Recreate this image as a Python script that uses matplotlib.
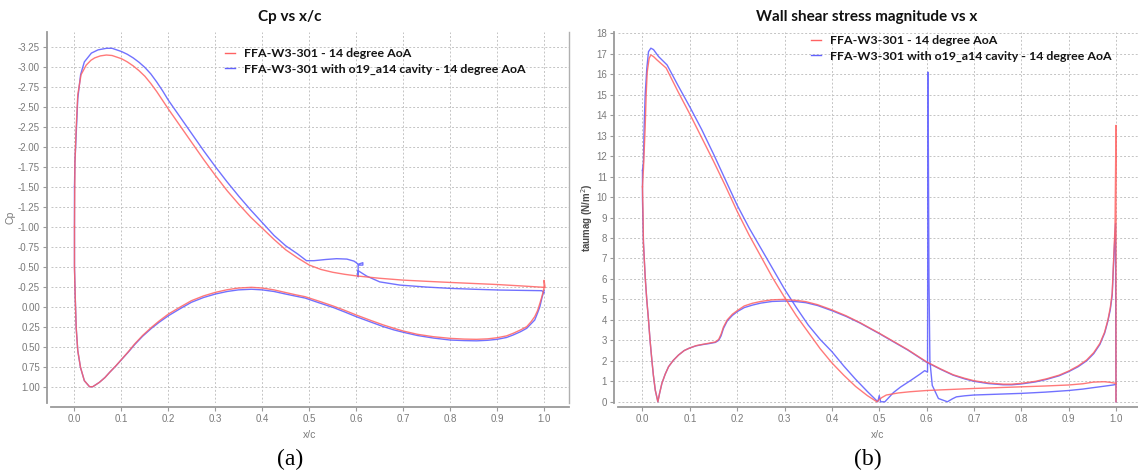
import matplotlib
matplotlib.use("Agg")
import matplotlib.pyplot as plt

W, H = 1138, 476

# ---- Cp vs x/c (suction side, pressure side) ----
cp_red_upper_x = [0.0, 0.001, 0.0036, 0.007, 0.014, 0.025, 0.035, 0.043, 0.055, 0.068, 0.08,
                  0.1, 0.1125, 0.125, 0.1375, 0.15, 0.1625, 0.175, 0.1875, 0.2, 0.225, 0.25,
                  0.275, 0.3, 0.325, 0.35, 0.375, 0.4, 0.425, 0.45, 0.475, 0.5, 0.525, 0.55,
                  0.575, 0.6, 0.65, 0.7, 0.75, 0.8, 0.85, 0.9, 0.95, 1.0, 1.0, 1.002]
cp_red_upper = [-1.0, -1.8, -2.23, -2.65, -2.90, -3.02, -3.08, -3.11, -3.135, -3.146, -3.14,
                -3.10, -3.06, -3.01, -2.95, -2.88, -2.79, -2.69, -2.58, -2.47, -2.26, -2.05,
                -1.84, -1.64, -1.45, -1.28, -1.12, -0.98, -0.84, -0.71, -0.61, -0.52, -0.465, -0.43,
                -0.405, -0.385, -0.355, -0.332, -0.317, -0.303, -0.29, -0.277, -0.26, -0.242, -0.33, -0.24]
cp_red_lower_x = [0.0, 0.0, 0.0014, 0.0036, 0.007, 0.0128, 0.021, 0.032, 0.039, 0.053, 0.065,
                  0.075, 0.088, 0.101, 0.115, 0.128, 0.145, 0.164, 0.18, 0.2, 0.225, 0.249, 0.275,
                  0.3, 0.325, 0.349, 0.377, 0.4, 0.425, 0.448, 0.47, 0.491, 0.52, 0.551, 0.575,
                  0.6, 0.63, 0.658, 0.68, 0.7, 0.73, 0.764, 0.8, 0.83, 0.856, 0.88, 0.9, 0.92,
                  0.934, 0.95, 0.963, 0.972, 0.98, 0.986, 0.991, 0.995, 0.998, 1.0]
cp_red_lower = [-1.0, -0.49, -0.158, 0.258, 0.55, 0.758, 0.925, 1.0, 1.0, 0.946, 0.885,
                0.82, 0.74, 0.654, 0.56, 0.467, 0.36, 0.258, 0.18, 0.092, 0.005, -0.075, -0.135,
                -0.179, -0.212, -0.233, -0.242, -0.233, -0.21, -0.179, -0.15, -0.125, -0.07, -0.008, 0.045,
                0.104, 0.17, 0.229, 0.27, 0.304, 0.345, 0.375, 0.396, 0.405, 0.408, 0.402, 0.388, 0.365,
                0.333, 0.29, 0.25, 0.19, 0.125, 0.05, -0.042, -0.12, -0.19, -0.24]

cp_blue_upper_x = [0.0, 0.001, 0.0036, 0.007, 0.013, 0.021, 0.036, 0.05, 0.068, 0.08, 0.1,
                   0.1125, 0.125, 0.1375, 0.15, 0.1625, 0.175, 0.1875, 0.2, 0.225, 0.25, 0.275,
                   0.3, 0.325, 0.35, 0.375, 0.4, 0.425, 0.45, 0.475, 0.494, 0.51, 0.535, 0.558,
                   0.58, 0.595, 0.60, 0.604, 0.614, 0.614, 0.604, 0.604, 0.604, 0.622, 0.65,
                   0.693, 0.75, 0.80, 0.85, 0.906, 0.95, 0.995, 1.0]
cp_blue_upper = [-1.5, -1.81, -2.15, -2.6, -2.90, -3.06, -3.17, -3.21, -3.23, -3.23, -3.19,
                 -3.155, -3.11, -3.055, -2.99, -2.91, -2.81, -2.70, -2.58, -2.37, -2.16, -1.95,
                 -1.75, -1.56, -1.38, -1.21, -1.05, -0.89, -0.76, -0.66, -0.575, -0.575, -0.59, -0.60,
                 -0.595, -0.57, -0.55, -0.53, -0.55, -0.52, -0.52, -0.375, -0.45, -0.383, -0.31,
                 -0.27, -0.245, -0.229, -0.218, -0.208, -0.204, -0.2, -0.175]
cp_blue_lower_x = [0.0, 0.0, 0.0014, 0.0036, 0.007, 0.0128, 0.021, 0.032, 0.039, 0.053, 0.065,
                   0.075, 0.088, 0.101, 0.115, 0.128, 0.145, 0.164, 0.18, 0.2, 0.225, 0.249, 0.275,
                   0.3, 0.325, 0.349, 0.377, 0.4, 0.425, 0.448, 0.47, 0.491, 0.52, 0.551, 0.575,
                   0.6, 0.63, 0.658, 0.68, 0.7, 0.73, 0.764, 0.8, 0.83, 0.856, 0.88, 0.9, 0.92,
                   0.934, 0.95, 0.963, 0.972, 0.98, 0.986, 0.991, 0.996, 1.0]
cp_blue_lower = [-1.5, -0.5, -0.16, 0.26, 0.55, 0.76, 0.925, 1.0, 1.0, 0.946, 0.885,
                 0.82, 0.742, 0.656, 0.565, 0.475, 0.37, 0.27, 0.196, 0.113, 0.025, -0.055, -0.115,
                 -0.158, -0.19, -0.21, -0.218, -0.21, -0.19, -0.16, -0.133, -0.108, -0.05, 0.01, 0.065,
                 0.125, 0.19, 0.25, 0.29, 0.32, 0.36, 0.392, 0.417, 0.424, 0.427, 0.42, 0.408, 0.385,
                 0.354, 0.312, 0.27, 0.215, 0.167, 0.08, 0.0, -0.125, -0.2]

# ---- wall shear stress magnitude vs x/c ----
tau_red_upper_x = [0.0, 0.0021, 0.0057, 0.0078, 0.01, 0.0141, 0.0177, 0.0233, 0.0304, 0.05,
                   0.075, 0.1, 0.125, 0.15, 0.175, 0.2, 0.225, 0.25, 0.275, 0.3, 0.325, 0.35,
                   0.375, 0.4, 0.425, 0.45, 0.475, 0.495, 0.505, 0.515, 0.54, 0.565, 0.6,
                   0.65, 0.7, 0.75, 0.8, 0.85, 0.9, 0.93, 0.952, 0.975, 0.987, 1.0]
tau_red_upper = [10.5, 11.4, 13.4, 15.0, 16.1, 16.78, 16.94, 16.86, 16.7, 16.3,
                 15.15, 14.05, 12.9, 11.75, 10.55, 9.3, 8.15, 7.1, 6.05, 5.1, 4.2, 3.4,
                 2.6, 1.9, 1.3, 0.75, 0.3, 0.0, 0.2, 0.33, 0.43, 0.49, 0.55,
                 0.6, 0.65, 0.69, 0.73, 0.77, 0.82, 0.88, 0.96, 0.98, 0.95, 0.9]
tau_red_lower_x = [0.0, 0.001, 0.002, 0.0057, 0.009, 0.0127, 0.016, 0.0198, 0.023, 0.027, 0.0325,
                   0.036, 0.041, 0.048, 0.055, 0.065, 0.076, 0.088, 0.099, 0.113, 0.126, 0.14,
                   0.154, 0.161, 0.166, 0.171, 0.179, 0.19, 0.2, 0.215, 0.232, 0.25, 0.274, 0.3,
                   0.325, 0.345, 0.37, 0.4, 0.43, 0.459, 0.5, 0.53, 0.56, 0.6, 0.63, 0.656, 0.68,
                   0.7, 0.73, 0.762, 0.78, 0.8, 0.83, 0.853, 0.88, 0.9, 0.92, 0.938, 0.953, 0.966,
                   0.976, 0.983, 0.988, 0.992, 0.995, 0.998, 1.0, 1.0]
tau_red_lower = [10.5, 9.4, 7.75, 6.1, 5.0, 4.0, 3.0, 2.04, 1.3, 0.57, 0.0,
                 0.4, 0.9, 1.35, 1.71, 2.02, 2.28, 2.5, 2.62, 2.74, 2.8, 2.86,
                 2.92, 3.05, 3.3, 3.65, 4.0, 4.28, 4.45, 4.68, 4.81, 4.9, 4.98, 5.0,
                 4.95, 4.89, 4.74, 4.49, 4.2, 3.87, 3.35, 2.95, 2.55, 1.95, 1.6, 1.32, 1.15,
                 1.03, 0.92, 0.86, 0.86, 0.9, 1.0, 1.12, 1.3, 1.5, 1.75, 2.04, 2.4, 2.85,
                 3.4, 4.0, 4.6, 5.3, 6.93, 8.56, 13.5, 0.0]

tau_blue_upper_x = [0.0, 0.002, 0.0035, 0.0057, 0.0092, 0.0127, 0.0177, 0.0233, 0.034, 0.052,
                    0.075, 0.1, 0.125, 0.15, 0.175, 0.2, 0.225, 0.25, 0.275, 0.3, 0.325, 0.35,
                    0.375, 0.4, 0.425, 0.45, 0.475, 0.497, 0.5, 0.503, 0.512, 0.52, 0.53, 0.545,
                    0.565, 0.586, 0.596, 0.602, 0.603, 0.605, 0.607, 0.612, 0.625, 0.644,
                    0.655, 0.663, 0.68, 0.7, 0.75, 0.8, 0.85, 0.9, 0.93, 0.952, 0.975, 0.994, 1.0]
tau_blue_upper = [11.3, 11.7, 13.4, 15.0, 16.3, 17.1, 17.27, 17.2, 16.86, 16.45,
                  15.45, 14.4, 13.3, 12.1, 10.85, 9.6, 8.5, 7.5, 6.5, 5.5, 4.6, 3.75,
                  3.05, 2.45, 1.75, 1.1, 0.5, 0.0, 0.3, 0.0, 0.0, 0.2, 0.45, 0.72,
                  1.02, 1.35, 1.52, 1.45, 16.1, 6.0, 2.0, 0.8, 0.16, 0.0,
                  0.15, 0.24, 0.29, 0.33, 0.37, 0.41, 0.47, 0.55, 0.62, 0.69, 0.76, 0.82, 0.85]
tau_blue_lower_x = [0.0, 0.0, 0.002, 0.0057, 0.009, 0.0127, 0.016, 0.0198, 0.023, 0.027, 0.0325,
                    0.036, 0.041, 0.048, 0.055, 0.065, 0.076, 0.088, 0.099, 0.113, 0.126, 0.14,
                    0.154, 0.161, 0.166, 0.171, 0.179, 0.19, 0.2, 0.215, 0.232, 0.25, 0.274, 0.3,
                    0.325, 0.345, 0.37, 0.4, 0.43, 0.459, 0.5, 0.53, 0.56, 0.6, 0.63, 0.656, 0.68,
                    0.7, 0.73, 0.762, 0.78, 0.8, 0.83, 0.853, 0.88, 0.9, 0.92, 0.938, 0.953, 0.966,
                    0.976, 0.983, 0.988, 0.992, 0.995, 0.999, 1.0]
tau_blue_lower = [11.3, 9.9, 7.8, 6.1, 5.0, 4.0, 3.0, 2.04, 1.3, 0.57, 0.0,
                  0.4, 0.9, 1.35, 1.71, 2.02, 2.28, 2.5, 2.62, 2.73, 2.79, 2.84,
                  2.9, 3.0, 3.22, 3.58, 3.95, 4.22, 4.4, 4.6, 4.72, 4.82, 4.9, 4.92,
                  4.89, 4.84, 4.7, 4.45, 4.17, 3.85, 3.33, 2.93, 2.53, 1.93, 1.58, 1.3, 1.12,
                  1.0, 0.89, 0.83, 0.83, 0.87, 0.97, 1.09, 1.27, 1.47, 1.71, 2.0, 2.35, 2.8,
                  3.35, 3.95, 4.5, 5.2, 6.8, 8.7, 0.0]

label_base = "FFA-W3-301 - 14 degree AoA"
label_cavity = "FFA-W3-301 with o19_a14 cavity - 14 degree AoA"

cp_ticks = [-3.25, -3.0, -2.75, -2.5, -2.25, -2.0, -1.75, -1.5, -1.25, -1.0, -0.75, -0.5,
            -0.25, 0.0, 0.25, 0.5, 0.75, 1.0]
x_ticks = [0.0, 0.1, 0.2, 0.3, 0.4, 0.5, 0.6, 0.7, 0.8, 0.9, 1.0]
tau_ticks = list(range(0, 19))

RED = "#ff6262"
BLUE = "#6262ff"
GRID = "#c4c4c4"
AXIS = "#9a9a9a"
TICKTXT = "#7a7a7a"


def px_axes(fig, x0, x1, y0, y1):
    """Add axes from pixel box (x0..x1 left-right, y0..y1 top-bottom)."""
    return fig.add_axes([x0 / W, 1 - y1 / H, (x1 - x0) / W, (y1 - y0) / H])


def style_axes(ax, right_spine=True):
    ax.grid(True, color=GRID, linestyle=(0, (2, 2)), linewidth=0.7)
    ax.set_axisbelow(True)
    ax.spines["top"].set_visible(False)
    ax.spines["right"].set_visible(right_spine)
    ax.spines["right"].set_color("#b0b0b0")
    ax.spines["right"].set_linewidth(1.0)
    for side in ("left", "bottom"):
        ax.spines[side].set_color(AXIS)
        ax.spines[side].set_linewidth(1.3)
        ax.spines[side].set_position(("outward", 3))
    ax.tick_params(colors=AXIS, labelcolor=TICKTXT, labelsize=7, length=3, width=0.8,
                   direction="out", pad=2)
    for lab in ax.get_xticklabels() + ax.get_yticklabels():
        lab.set_fontfamily("Liberation Sans")


def draw_pair(ax, red_branches, blue_branches):
    for xs, ys in blue_branches:
        ax.plot(xs, ys, color=BLUE, lw=1.0, alpha=0.9)
    for xs, ys in red_branches:
        ax.plot(xs, ys, color=RED, lw=1.0, alpha=0.85)


fig = plt.figure(figsize=(W / 100, H / 100), dpi=100)
fig.patch.set_facecolor("white")

# ---- (a) pressure coefficient ----
ax1 = px_axes(fig, 51, 569, 31.7, 403)
draw_pair(ax1,
          [(cp_red_upper_x, cp_red_upper), (cp_red_lower_x, cp_red_lower)],
          [(cp_blue_upper_x, cp_blue_upper), (cp_blue_lower_x, cp_blue_lower)])
ax1.set_xlim(-0.050, 1.053)
ax1.set_ylim(1.204, -3.4375)
ax1.set_xticks(x_ticks)
ax1.set_xticklabels([f"{v:.1f}" for v in x_ticks])
ax1.set_yticks(cp_ticks)
ax1.set_yticklabels([f"{v:.2f}" for v in cp_ticks])
style_axes(ax1, right_spine=True)
ax1.set_xlabel("x/c", color=TICKTXT, fontsize=7.5, labelpad=4, family="Liberation Sans")
ax1.set_ylabel("Cp", color=TICKTXT, fontsize=7.5, labelpad=2, family="Liberation Sans")

h_red = plt.Line2D([], [], color=RED, lw=1.0)
h_blue = plt.Line2D([], [], color=BLUE, lw=1.0)
leg_kw = dict(frameon=False, loc="upper left", borderpad=0, borderaxespad=0,
              handlelength=0.8, handletextpad=0.7, labelspacing=0.38,
              prop={"family": "Lato", "weight": "bold", "size": 8.9}, labelcolor="#141414")
ax1.legend([h_red, h_blue], [label_base, label_cavity],
           bbox_to_anchor=((225 - 51) / 518, (403 - 48) / 371.3), **leg_kw)

# ---- (b) wall shear stress ----
ax2 = px_axes(fig, 618, 1138, 32, 403)
draw_pair(ax2,
          [(tau_red_upper_x, tau_red_upper), (tau_red_lower_x, tau_red_lower)],
          [(tau_blue_upper_x, tau_blue_upper), (tau_blue_lower_x, tau_blue_lower)])
ax2.set_xlim(-0.0517, 1.0465)
ax2.set_ylim(-0.06, 18.06)
ax2.set_xticks(x_ticks)
ax2.set_xticklabels([f"{v:.1f}" for v in x_ticks])
ax2.set_yticks(tau_ticks)
style_axes(ax2, right_spine=False)
ax2.set_xlabel("x/c", color=TICKTXT, fontsize=7.5, labelpad=4, family="Liberation Sans")
ax2.set_ylabel("taumag (N/m$^2$)", color="#4a4a4a", fontsize=7, labelpad=1,
               family="Liberation Sans", weight="bold")
ax2.legend([h_red, h_blue], [label_base, label_cavity],
           bbox_to_anchor=((811 - 618) / 520, (403 - 35) / 371), **leg_kw)

# titles and sub-figure captions
fig.text(290 / W, 1 - 17 / H, "Cp vs x/c", ha="center", va="center",
         fontsize=11, weight="bold", family="Lato", color="#111111")
fig.text(867 / W, 1 - 17 / H, "Wall shear stress magnitude vs x", ha="center", va="center",
         fontsize=11, weight="bold", family="Lato", color="#111111")
fig.text(290 / W, 1 - 459 / H, "(a)", ha="center", va="center",
         fontsize=17, family="Liberation Serif", color="black")
fig.text(868 / W, 1 - 459 / H, "(b)", ha="center", va="center",
         fontsize=17, family="Liberation Serif", color="black")

fig.savefig("out.png", dpi=100, facecolor="white")
